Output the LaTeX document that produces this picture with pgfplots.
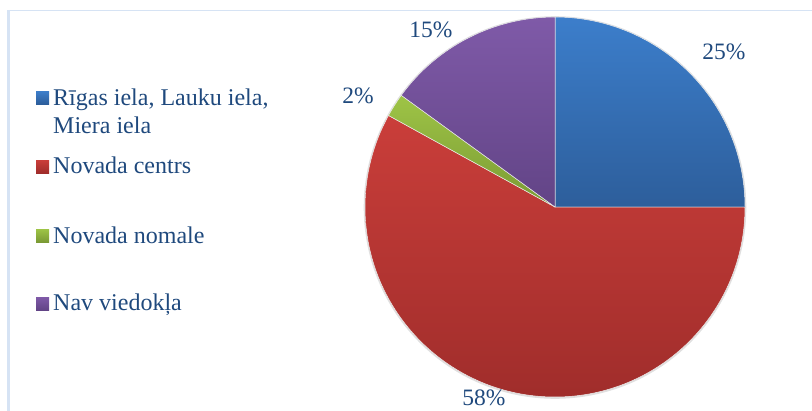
\documentclass[border=0pt]{standalone}
\usepackage{pgfplots}
\pgfplotsset{compat=1.18}
\usepackage{pgfplotstable}
\usepackage{fontspec}
\setmainfont{Liberation Serif}
\definecolor{txt}{RGB}{31,73,125}
\definecolor{frame}{RGB}{214,227,244}
\definecolor{bT}{RGB}{60,126,203}\definecolor{bB}{RGB}{45,94,155}
\definecolor{rT}{RGB}{202,62,58}\definecolor{rB}{RGB}{160,45,43}
\definecolor{gT}{RGB}{158,196,70}\definecolor{gB}{RGB}{122,154,52}
\definecolor{pT}{RGB}{127,90,168}\definecolor{pB}{RGB}{98,68,134}
\tikzset{legtext/.style={text=txt, anchor=base west, inner sep=0pt, font=\fontsize{24bp}{28bp}\selectfont}}
\pgfplotstableread{
value top bot labx laby legy
25 bT bB 724 52 104
58 rT rB 484 398 173
2 gT gB 358 96 242
15 pT pB 431 30 310
}\piedata
\begin{document}
\begin{tikzpicture}
\path[use as bounding box] (0,0) rectangle (812bp,411bp);
\begin{axis}[at={(0,0)}, anchor=south west, width=812bp, height=411bp,
  scale only axis, xmin=0, xmax=812, ymin=0, ymax=411, y dir=reverse,
  hide axis, clip=false]
\addplot[draw=none] coordinates {(0,0)};
% frame
\draw[frame, line width=1.2bp] (axis cs:8,10.5) -- (axis cs:812,10.5);
\draw[frame, line width=2.2bp] (axis cs:8.5,10) -- (axis cs:8.5,411);
% shadow
\draw[black!12, line width=1.6bp] (axis cs:555,207.5) circle[radius=190.5bp];
\pgfplotstablegetrowsof{\piedata}
\pgfmathtruncatemacro\nrows{\pgfplotsretval-1}
\def\cum{0}
\pgfplotsforeachungrouped \i in {0,...,\nrows}{%
  \pgfplotstablegetelem{\i}{value}\of\piedata \let\v\pgfplotsretval
  \pgfplotstablegetelem{\i}{top}\of\piedata \let\tc\pgfplotsretval
  \pgfplotstablegetelem{\i}{bot}\of\piedata \let\bc\pgfplotsretval
  \pgfplotstablegetelem{\i}{labx}\of\piedata \let\lx\pgfplotsretval
  \pgfplotstablegetelem{\i}{laby}\of\piedata \let\ly\pgfplotsretval
  \pgfplotstablegetelem{\i}{legy}\of\piedata \let\gy\pgfplotsretval
  \pgfmathsetmacro\a{90-3.6*\cum}%
  \pgfmathsetmacro\b{90-3.6*(\cum+\v)}%
  \pgfmathsetmacro\gyt{\gy-13}%
  \edef\temp{\noexpand\shade[top color=\tc, bottom color=\bc, draw=white!85!gray, line width=0.5bp]
    (axis cs:555,207) -- ++(\a:190bp) arc[start angle=\a, end angle=\b, radius=190bp] -- cycle;
    \noexpand\node[text=txt, font=\noexpand\fontsize{23.5bp}{28bp}\noexpand\selectfont, inner sep=0pt]
    at (axis cs:\lx,\ly) {\v\noexpand\%};
    \noexpand\shade[top color=\tc, bottom color=\bc] (axis cs:36,\gyt) rectangle (axis cs:49,\gy);}%
  \temp
  \pgfmathsetmacro\cum{\cum+\v}%
}
% legend text
\node[legtext] at (axis cs:53,105) {Rīgas iela, Lauku iela,};
\node[legtext] at (axis cs:53,133) {Miera iela};
\node[legtext] at (axis cs:53,173) {Novada centrs};
\node[legtext] at (axis cs:53,243) {Novada nomale};
\node[legtext] at (axis cs:53,310) {Nav viedokļa};
\end{axis}
\end{tikzpicture}
\end{document}
